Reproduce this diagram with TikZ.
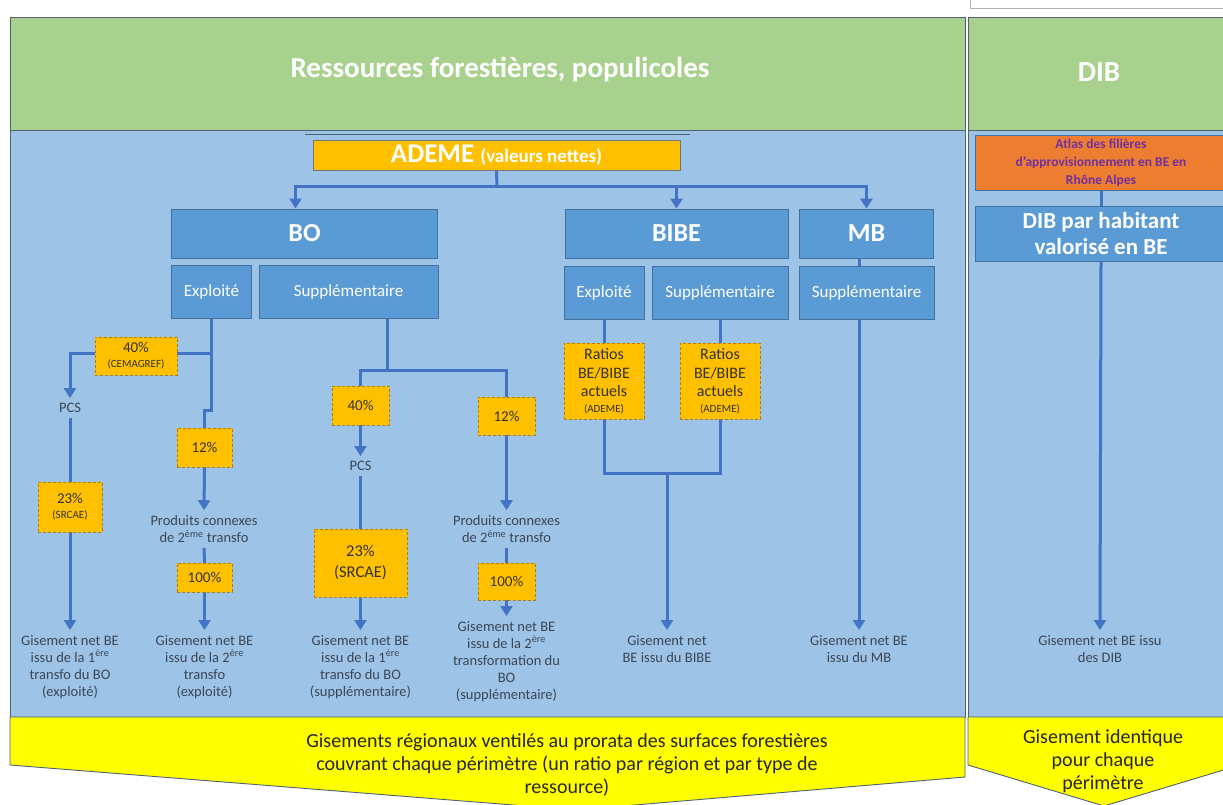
\documentclass[tikz,border=0pt]{standalone}
\usepackage{fontspec}
\setmainfont{Carlito}
\usetikzlibrary{arrows.meta}

\definecolor{headgreen}{HTML}{A9D18E}
\definecolor{panelblue}{HTML}{9DC3E6}
\definecolor{boxblue}{HTML}{5B9BD5}
\definecolor{boxline}{HTML}{41719C}
\definecolor{linkblue}{HTML}{4472C4}
\definecolor{ademeorange}{HTML}{FFC000}
\definecolor{pctline}{HTML}{B08000}
\definecolor{atlasorange}{HTML}{ED7D31}
\definecolor{atlastext}{HTML}{7030A0}
\definecolor{labeltext}{HTML}{3B4656}
\definecolor{panelline}{HTML}{4F6272}
\definecolor{shapeyellow}{HTML}{FFFF00}

\newcommand{\smallnote}{\fontsize{11}{12}\selectfont}

\pgfdeclarelayer{back}
\pgfdeclarelayer{wires}
\pgfsetlayers{back,wires,main}

\tikzset{
  panel/.style={draw=panelline, line width=0.9pt},
  head/.style={text=white, font=\bfseries\fontsize{29}{34}\selectfont},
  bluebox/.style={draw=boxline, fill=boxblue, text=white, line width=0.8pt, inner sep=0pt, align=center},
  bigbox/.style={bluebox, minimum height=49pt, font=\bfseries\fontsize{26}{30}\selectfont},
  subbox/.style={bluebox, minimum height=53pt, font=\fontsize{17}{20}\selectfont},
  pct/.style={draw=pctline, dash pattern=on 3pt off 2pt, fill=ademeorange, text=black!80,
    align=center, inner sep=0pt, font=\fontsize{15}{17}\selectfont},
  gis/.style={text=labeltext, align=center, anchor=north, inner sep=5pt, font=\fontsize{14.5}{17}\selectfont},
  mid/.style={text=labeltext, align=center, inner sep=5pt, font=\fontsize{14.5}{17}\selectfont},
  link/.style={draw=linkblue, line width=3pt},
  arr/.style={link, -{Triangle[width=12pt,length=10pt]}},
  yellowtext/.style={text=black!85, align=center, font=\fontsize{20}{23}\selectfont},
}

\begin{document}
\begin{tikzpicture}[x=1pt, y=-1pt]
\useasboundingbox (0,0) rectangle (1223,805);

% headers
\node[head] (hres) at (500,70) {Ressources forestières, populicoles};
\node[head] (hdib) at (1099,72) {DIB};

\node[draw=black!55, fill=ademeorange, text=white, minimum width=367pt, minimum height=30pt, inner sep=0pt,
  font=\bfseries\fontsize{27}{29}\selectfont] (ademe) at (496.5,155) {ADEME {\fontsize{19}{21}\selectfont(valeurs nettes)}};

% resource boxes
\node[bigbox, minimum width=266pt] (bo) at (304.5,233.5) {BO};
\node[bigbox, minimum width=223pt] (bibe) at (676.5,233.5) {BIBE};
\node[bigbox, minimum width=134pt] (mb) at (866.5,233.5) {MB};
\node[subbox, minimum width=80pt] (boexp) at (211.5,291.5) {Exploité};
\node[subbox, minimum width=179pt] (bosup) at (348.5,291.5) {Supplémentaire};
\node[subbox, minimum width=80pt] (bibeexp) at (604,292.5) {Exploité};
\node[subbox, minimum width=136pt] (bibesup) at (720,292.5) {Supplémentaire};
\node[subbox, minimum width=135pt] (mbsup) at (866.5,292.5) {Supplémentaire};

\node[draw=boxline, fill=atlasorange, text=atlastext, minimum width=252pt, minimum height=55pt, inner sep=0pt,
  align=center, font=\bfseries\fontsize{13.5}{18}\selectfont] (atlas) at (1101,162.5)
  {Atlas des filières\\d'approvisionnement en BE en\\Rhône Alpes};
\node[bigbox, minimum width=252pt, minimum height=55pt, font=\bfseries\fontsize{23}{26}\selectfont] (dib) at (1101,233.5)
  {DIB par habitant\\valorisé en BE};

% ratios
\node[pct, minimum width=82pt, minimum height=38pt] (pa40) at (136,356) {40\%\\[-2pt]{\smallnote(CEMAGREF)}};
\node[pct, minimum width=64pt, minimum height=50pt] (pa23) at (70,507) {23\%\\[-2pt]{\smallnote(SRCAE)}};
\node[pct, minimum width=55pt, minimum height=39pt] (pa12) at (204.5,447.5) {12\%};
\node[pct, minimum width=55pt, minimum height=29pt] (pa100) at (204.5,577.5) {100\%};
\node[pct, minimum width=57pt, minimum height=39pt] (pb40) at (360.5,405.5) {40\%};
\node[pct, minimum width=93pt, minimum height=68pt, font=\fontsize{16.5}{21}\selectfont] (pb23) at (360.5,563) {23\%\\(SRCAE)};
\node[pct, minimum width=57pt, minimum height=38pt] (pb12) at (506.5,416) {12\%};
\node[pct, minimum width=57pt, minimum height=37pt] (pb100) at (506.5,581.5) {100\%};
\node[pct, minimum width=80pt, minimum height=76pt, font=\fontsize{16}{18.5}\selectfont] (ratio1) at (604,381)
  {Ratios\\BE/BIBE\\actuels\\[-3pt]{\smallnote(ADEME)}};
\node[pct, minimum width=80pt, minimum height=76pt, font=\fontsize{16}{18.5}\selectfont] (ratio2) at (720,381)
  {Ratios\\BE/BIBE\\actuels\\[-3pt]{\smallnote(ADEME)}};

% intermediate texts
\node[mid] (pcsa) at (70,408) {PCS};
\node[mid] (pcsb) at (360.5,466) {PCS};
\node[mid] (pxa) at (204,529) {Produits connexes\\de 2\textsuperscript{ème} transfo};
\node[mid] (pxb) at (506.5,529) {Produits connexes\\de 2\textsuperscript{ème} transfo};

% results
\node[gis] (ga1) at (70,630) {Gisement net BE\\issu de la 1\textsuperscript{ère}\\transfo du BO\\(exploité)};
\node[gis] (ga2) at (204.5,630) {Gisement net BE\\issu de la 2\textsuperscript{ère}\\transfo\\(exploité)};
\node[gis] (gb1) at (360.5,630) {Gisement net BE\\issu de la 1\textsuperscript{ère}\\transfo du BO\\(supplémentaire)};
\node[gis] (gb2) at (506.5,616) {Gisement net BE\\issu de la 2\textsuperscript{ère}\\transformation du\\BO\\(supplémentaire)};
\node[gis] (gbibe) at (667,630) {Gisement net\\BE issu du BIBE};
\node[gis] (gmb) at (859,630) {Gisement net BE\\issu du MB};
\node[gis] (gdib) at (1100,630) {Gisement net BE issu\\des DIB};

% bottom
\node[yellowtext] (ventil) at (567,765) {Gisements régionaux ventilés au prorata des surfaces forestières\\couvrant chaque périmètre (un ratio par région et par type de\\ressource)};
\node[yellowtext] (ident) at (1103,761) {Gisement identique\\pour chaque\\périmètre};

\begin{pgfonlayer}{back}
  \fill[white] (0,0) rectangle (1223,805);
  \draw[black!30, line width=0.6pt] (970,-2) |- (1230,8);
  \draw[panel, fill=headgreen] (10,17) rectangle (965,130);
  \draw[panel, fill=headgreen] (968,17) rectangle (1235,130);
  \draw[panel, fill=panelblue] (10,130) rectangle (965,717);
  \draw[panel, fill=panelblue] (968,130) rectangle (1235,717);
  \draw[panel, fill=shapeyellow] (10,717) -- (965,717) -- (965,777) -- (576,810) -- (10,765) -- cycle;
  \draw[panel, fill=shapeyellow] (968,717) -- (1240,717) -- (1240,765) -- (1104,806) -- (968,765) -- cycle;
  \draw[panelline, line width=1pt] (305,135) -- (690,135);
\end{pgfonlayer}

\begin{pgfonlayer}{wires}
  \coordinate (hub) at (497,187);
  \draw[link] (ademe.south) -- (hub);
  \draw[arr] (hub) -| ([xshift=-9pt]bo.north);
  \draw[arr] (hub) -| (bibe.north);
  \draw[arr] (hub) -| (mb.north);

  % BO exploite
  \coordinate (ea) at (211.5,353);
  \coordinate (eb) at (211.5,410);
  \draw[link] (boexp.south) -- (ea) -- (eb) -| (pa12.north);
  \draw[arr] (ea) -| (pcsa.north);
  \draw[link] (pcsa.south) -- (pa23.north);
  \draw[arr] (pa23.south) -- (ga1.north);
  \draw[arr] (pa12.south) -- (pxa.north);
  \draw[link] (pxa.south) -- (pa100.north);
  \draw[arr] (pa100.south) -- (ga2.north);

  % BO supplementaire
  \coordinate (sa) at (387,370);
  \draw[link] (bosup.south -| sa) -- (sa);
  \draw[link] (pb40.north) |- (sa) -| (pb12.north);
  \draw[arr] (pb40.south) -- (pcsb.north);
  \draw[link] (pcsb.south) -- (pb23.north);
  \draw[arr] (pb23.south) -- (gb1.north);
  \draw[arr] (pb12.south) -- (pxb.north);
  \draw[link] (pxb.south) -- (pb100.north);
  \draw[arr] (pb100.south) -- (gb2.north);

  % BIBE
  \coordinate (rj) at (667,473);
  \draw[link] (bibeexp.south) -- (ratio1.north);
  \draw[link] (bibesup.south) -- (ratio2.north);
  \draw[link] (ratio1.south) |- (rj) -| (ratio2.south);
  \draw[arr] (rj) -- (gbibe.north);

  % MB
  \draw[link] (mb.south -| gmb.north) -- (mbsup.north -| gmb.north);
  \draw[arr] (mbsup.south -| gmb.north) -- (gmb.north);

  % DIB
  \draw[link] (atlas.south) -- (dib.north);
  \draw[arr] (dib.south) -- (gdib.north);
\end{pgfonlayer}

\end{tikzpicture}
\end{document}
